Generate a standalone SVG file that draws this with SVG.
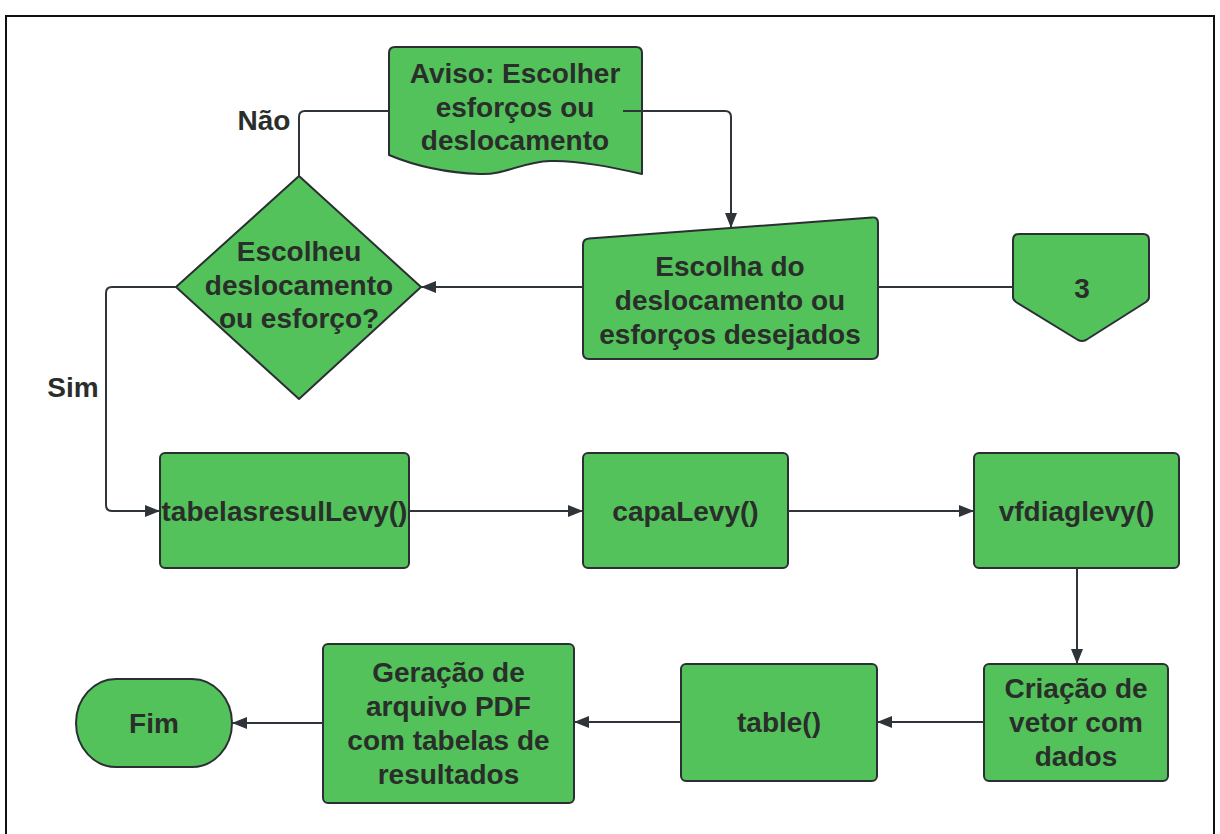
<svg xmlns="http://www.w3.org/2000/svg" width="1220" height="834" viewBox="0 0 1220 834">
<style>
.n{fill:#53c25b;stroke:#2b2f33;stroke-width:2;stroke-linejoin:round}
.t{font-family:"Liberation Sans",Arial,sans-serif;font-weight:bold;font-size:28px;fill:#2a2e2a;text-anchor:middle}
.c{fill:none;stroke:#2f333a;stroke-width:2}
.a{marker-end:url(#ah)}
</style>
<defs>
<marker id="ah" viewBox="0 0 15 12" refX="15" refY="6" markerWidth="15" markerHeight="12" orient="auto" markerUnits="userSpaceOnUse">
<path d="M0,0 L15,6 L0,12 Z" fill="#2f333a"/>
</marker>
</defs>
<rect x="0" y="0" width="1220" height="834" fill="#ffffff"/>
<rect x="6" y="16" width="1208" height="830" fill="none" stroke="#111" stroke-width="2"/>

<g id="aviso">
<path class="n" d="M389,155 V53 Q389,47 395,47 H636 Q642,47 642,53 V174 C615,168 578,160 550,161 C522,162 505,175 480,174 C452,173 420,168 389,155 Z"/>
<text class="t" x="515" y="83">Aviso: Escolher</text>
<text class="t" x="515" y="117">esforços ou</text>
<text class="t" x="515" y="150">deslocamento</text>
</g>

<g id="escolha">
<path class="n" d="M583,245 Q583,239 589,238.6 L872,217.4 Q878,217 878,223 V353 Q878,359 872,359 H589 Q583,359 583,353 Z"/>
<text class="t" x="730" y="276">Escolha do</text>
<text class="t" x="730" y="310">deslocamento ou</text>
<text class="t" x="730" y="344">esforços desejados</text>
</g>

<g id="conector3">
<path class="n" d="M1019,234 H1143 Q1149,234 1149,240 V297 Q1149,300 1146,302 L1086,340 Q1082,342 1078,340 L1016,302 Q1013,300 1013,297 V240 Q1013,234 1019,234 Z"/>
<text class="t" x="1082" y="298">3</text>
</g>

<g id="decisao">
<polygon class="n" points="299,176 421,287 299,399 176,287"/>
<text class="t" x="299" y="261">Escolheu</text>
<text class="t" x="299" y="295">deslocamento</text>
<text class="t" x="299" y="328">ou esforço?</text>
</g>

<g id="tabelas">
<rect class="n" x="160" y="453" width="249" height="115" rx="5"/>
<text class="t" x="284.5" y="521">tabelasresulLevy()</text>
</g>

<g id="capa">
<rect class="n" x="583" y="453" width="205" height="115" rx="5"/>
<text class="t" x="685.5" y="521">capaLevy()</text>
</g>

<g id="vfdiag">
<rect class="n" x="974" y="453" width="205" height="115" rx="5"/>
<text class="t" x="1076.5" y="521">vfdiaglevy()</text>
</g>

<g id="criacao">
<rect class="n" x="984" y="664" width="184" height="117" rx="5"/>
<text class="t" x="1076" y="698">Criação de</text>
<text class="t" x="1076" y="732">vetor com</text>
<text class="t" x="1076" y="766">dados</text>
</g>

<g id="table">
<rect class="n" x="681" y="664" width="196" height="117" rx="5"/>
<text class="t" x="779" y="732">table()</text>
</g>

<g id="geracao">
<rect class="n" x="323" y="644" width="251" height="159" rx="5"/>
<text class="t" x="448.5" y="682">Geração de</text>
<text class="t" x="448.5" y="716">arquivo PDF</text>
<text class="t" x="448.5" y="750">com tabelas de</text>
<text class="t" x="448.5" y="784">resultados</text>
</g>

<g id="fim">
<rect class="n" x="76" y="679" width="156" height="88" rx="40" ry="44"/>
<text class="t" x="154" y="733">Fim</text>
</g>

<g id="connectors">
<path class="c" d="M299,176 V117 Q299,111 305,111 H389"/>
<path class="c a" d="M623,111 H725 Q731,111 731,117 V228"/>
<path class="c" d="M1013,287 H878"/>
<path class="c a" d="M583,287 H421"/>
<path class="c a" d="M176,287 H112 Q106,287 106,293 V505 Q106,511 112,511 H160"/>
<path class="c a" d="M409,511 H583"/>
<path class="c a" d="M788,511 H974"/>
<path class="c a" d="M1077,568 V664"/>
<path class="c a" d="M984,722 H877"/>
<path class="c a" d="M681,722 H574"/>
<path class="c a" d="M323,723 H232"/>
<text class="t" x="264" y="130">Não</text>
<text class="t" x="73" y="397">Sim</text>
</g>
</svg>
